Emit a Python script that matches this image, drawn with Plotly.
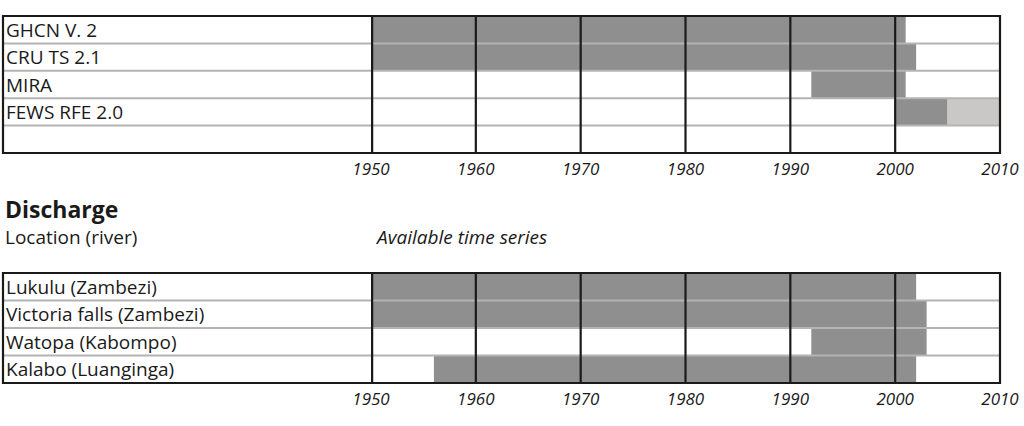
import plotly.graph_objects as go

# ---------------- data ----------------
precip_sources = ["GHCN V. 2", "CRU TS 2.1", "MIRA", "FEWS RFE 2.0"]
precip_start = [1950, 1950, 1992, 2000]
precip_end = [2001, 2002, 2001, 2005]
precip_ext_start = [None, None, None, 2005]
precip_ext_end = [None, None, None, 2010]

stations = ["Lukulu (Zambezi)", "Victoria falls (Zambezi)", "Watopa (Kabompo)", "Kalabo (Luanginga)"]
station_start = [1950, 1950, 1992, 1956]
station_end = [2002, 2003, 2003, 2002]

decades = [1950, 1960, 1970, 1980, 1990, 2000, 2010]
decade_labels = [str(d) for d in decades]

# ---------------- styling ----------------
W, H = 1024, 426
FONT = "Open Sans"
DARK = "#8e8f8e"
LIGHT = "#c9c8c6"
SEP = "#b4b4b4"
INK = "#1a1a1a"

def px_x(p):
    return p / W

def px_y(p):
    return 1 - p / H

left_px, x1950_px, x2010_px = 3, 371, 1000
top_tbl = (16, 153)
bot_tbl = (273, 383)

fig = go.Figure()

# top table bars
fig.add_trace(go.Bar(
    orientation="h", y=list(range(len(precip_sources))),
    x=[e - s for s, e in zip(precip_start, precip_end)], base=precip_start,
    width=1, marker=dict(color=DARK, line=dict(width=0)),
    xaxis="x", yaxis="y", showlegend=False, hoverinfo="skip"))
ext_y = [i for i, s in enumerate(precip_ext_start) if s is not None]
fig.add_trace(go.Bar(
    orientation="h", y=ext_y,
    x=[precip_ext_end[i] - precip_ext_start[i] for i in ext_y],
    base=[precip_ext_start[i] for i in ext_y],
    width=1, marker=dict(color=LIGHT, line=dict(width=0)),
    xaxis="x", yaxis="y", showlegend=False, hoverinfo="skip"))

# bottom table bars
fig.add_trace(go.Bar(
    orientation="h", y=list(range(len(stations))),
    x=[e - s for s, e in zip(station_start, station_end)], base=station_start,
    width=1, marker=dict(color=DARK, line=dict(width=0)),
    xaxis="x2", yaxis="y2", showlegend=False, hoverinfo="skip"))

n_top = len(precip_sources) + 1  # one empty row
n_bot = len(stations)

shapes = []
annotations = []

def table(xref, yref, nrows, labels):
    # row separators
    for i in range(1, nrows):
        shapes.append(dict(type="line", xref="paper", yref=yref,
                           x0=px_x(left_px), x1=px_x(x2010_px), y0=i - 0.5, y1=i - 0.5,
                           line=dict(color=SEP, width=2), layer="above"))
    # decade lines
    for d in decades[:-1]:
        shapes.append(dict(type="line", xref=xref, yref=yref + " domain",
                           x0=d, x1=d, y0=0, y1=1,
                           line=dict(color=INK, width=4.5 if d == decades[0] else 2.2),
                           layer="above"))
    # outer border
    shapes.append(dict(type="rect", xref="paper", yref=yref + " domain",
                       x0=px_x(left_px), x1=px_x(x2010_px), y0=0, y1=1,
                       line=dict(color=INK, width=2.2), layer="above"))
    for i, lab in enumerate(labels):
        annotations.append(dict(text=lab, xref="paper", yref=yref, x=px_x(4), y=i,
                                xanchor="left", yanchor="middle", showarrow=False,
                                font=dict(family=FONT, size=19, color=INK)))

table("x", "y", n_top, precip_sources)
table("x2", "y2", n_bot, stations)

annotations += [
    dict(text="<b>Discharge</b>", xref="paper", yref="paper", x=px_x(3), y=px_y(209),
         xanchor="left", yanchor="middle", showarrow=False,
         font=dict(family=FONT, size=23, color=INK)),
    dict(text="Location (river)", xref="paper", yref="paper", x=px_x(3), y=px_y(237),
         xanchor="left", yanchor="middle", showarrow=False,
         font=dict(family=FONT, size=19, color=INK)),
    dict(text="<i>Available time series</i>", xref="paper", yref="paper", x=px_x(373), y=px_y(237),
         xanchor="left", yanchor="middle", showarrow=False,
         font=dict(family=FONT, size=19, color=INK)),
]

xaxis_common = dict(range=[decades[0], decades[-1]], domain=[px_x(x1950_px), px_x(x2010_px)],
                    tickvals=decades, ticktext=[f"<i>{t}</i>" for t in decade_labels],
                    showgrid=False, zeroline=False, showline=False, ticks="",
                    automargin=False, ticklabelstandoff=4,
                    tickfont=dict(family=FONT, size=17, color=INK), fixedrange=True)

fig.update_layout(
    width=W, height=H, margin=dict(l=0, r=0, t=0, b=0, autoexpand=False),
    paper_bgcolor="white", plot_bgcolor="white", barmode="overlay",
    xaxis=dict(**xaxis_common, anchor="y"),
    yaxis=dict(range=[n_top - 0.5, -0.5], domain=[px_y(top_tbl[1]), px_y(top_tbl[0])],
               showticklabels=False, showgrid=False, zeroline=False, anchor="x"),
    xaxis2=dict(**xaxis_common, anchor="y2"),
    yaxis2=dict(range=[n_bot - 0.5, -0.5], domain=[px_y(bot_tbl[1]), px_y(bot_tbl[0])],
                showticklabels=False, showgrid=False, zeroline=False, anchor="x2"),
    shapes=shapes, annotations=annotations,
)

fig.write_html("out.html")
